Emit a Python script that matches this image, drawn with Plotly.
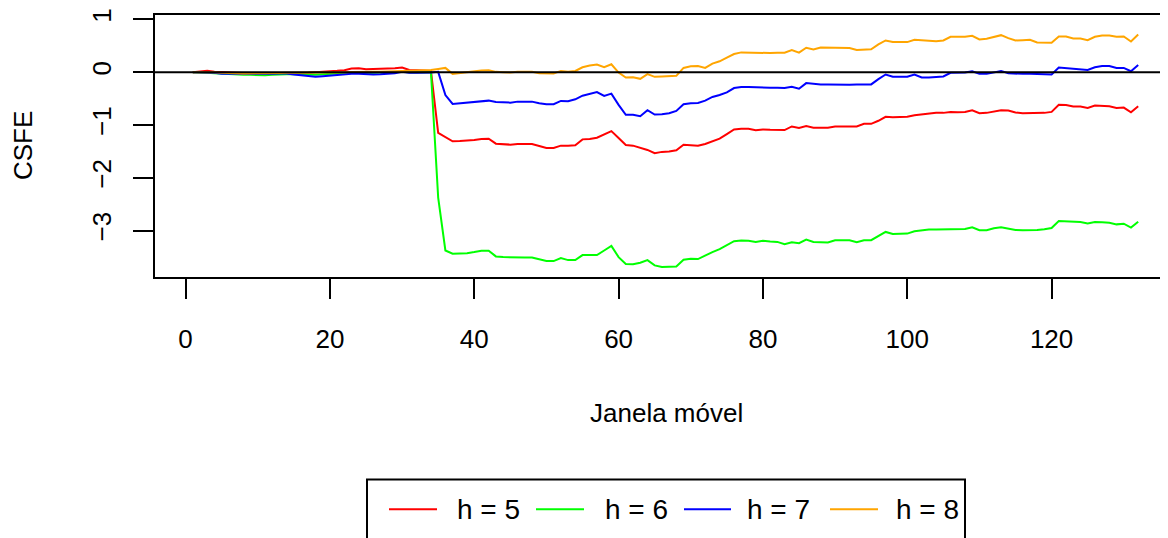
import plotly.graph_objects as go

# ---- data ----
janela = list(range(1, 133))

h5 = [0.00, 0.01, 0.025, 0.01, 0.0, -0.01, -0.01, -0.015, -0.015, -0.02,
      -0.02, -0.015, -0.015, -0.01, -0.01, -0.01, -0.01, 0.0, 0.005, 0.015,
      0.025, 0.037, 0.068, 0.075, 0.056, 0.062, 0.062, 0.062, 0.075, 0.087,
      0.043, 0.037, 0.037, 0.025, -1.15, -1.235, -1.31, -1.304, -1.298, -1.285,
      -1.266, -1.26, -1.354, -1.366, -1.373, -1.36, -1.36, -1.36, -1.398, -1.436,
      -1.436, -1.392, -1.392, -1.385, -1.273, -1.266, -1.241, -1.172, -1.116, -1.247,
      -1.379, -1.392, -1.436, -1.473, -1.536, -1.51, -1.504, -1.479, -1.373, -1.379,
      -1.392, -1.36, -1.316, -1.26, -1.172, -1.084, -1.072, -1.07, -1.10, -1.085,
      -1.091, -1.091, -1.097, -1.028, -1.059, -1.022, -1.053, -1.053, -1.053, -1.028,
      -1.028, -1.028, -1.028, -0.978, -0.978, -0.921, -0.846, -0.853, -0.846, -0.846,
      -0.815, -0.796, -0.777, -0.771, -0.771, -0.753, -0.759, -0.753, -0.721, -0.777,
      -0.771, -0.74, -0.721, -0.727, -0.765, -0.777, -0.777, -0.777, -0.771, -0.753,
      -0.618, -0.621, -0.652, -0.652, -0.677, -0.633, -0.646, -0.646, -0.677, -0.671,
      -0.759, -0.646]

h6 = [0.0, 0.0, -0.01, -0.02, -0.03, -0.04, -0.045, -0.05, -0.05, -0.055,
      -0.06, -0.05, -0.04, -0.04, -0.04, -0.045, -0.05, -0.05, -0.04, -0.03,
      -0.02, -0.01, -0.01, -0.005, -0.01, -0.01, -0.005, 0.0, 0.005, 0.01,
      0.0, 0.0, 0.0, 0.0, -2.375, -3.378, -3.44, -3.435, -3.428, -3.408,
      -3.384, -3.384, -3.49, -3.503, -3.509, -3.503, -3.509, -3.509, -3.547, -3.578,
      -3.578, -3.522, -3.56, -3.56, -3.465, -3.465, -3.465, -3.378, -3.29, -3.503,
      -3.635, -3.64, -3.61, -3.56, -3.66, -3.69, -3.685, -3.68, -3.553, -3.535,
      -3.54, -3.471, -3.408, -3.351, -3.283, -3.202, -3.19, -3.195, -3.215, -3.195,
      -3.208, -3.215, -3.258, -3.221, -3.24, -3.171, -3.215, -3.215, -3.227, -3.183,
      -3.183, -3.183, -3.221, -3.183, -3.183, -3.108, -3.026, -3.064, -3.064, -3.058,
      -3.014, -2.995, -2.982, -2.982, -2.982, -2.976, -2.976, -2.97, -2.939, -2.995,
      -2.995, -2.957, -2.939, -2.964, -2.989, -2.995, -2.995, -2.989, -2.976, -2.951,
      -2.82, -2.826, -2.839, -2.839, -2.864, -2.839, -2.845, -2.851, -2.883, -2.87,
      -2.945, -2.833]

h7 = [0.0, 0.0, 0.0, -0.013, -0.03, -0.03, -0.03, -0.03, -0.03, -0.044,
      -0.044, -0.032, -0.026, -0.026, -0.044, -0.057, -0.076, -0.088, -0.076, -0.063,
      -0.044, -0.038, -0.032, -0.032, -0.044, -0.044, -0.038, -0.032, -0.019, 0.006,
      -0.013, -0.013, -0.013, -0.007, 0.006, -0.433, -0.602, -0.589, -0.571, -0.558,
      -0.539, -0.539, -0.565, -0.571, -0.577, -0.558, -0.558, -0.558, -0.589, -0.608,
      -0.608, -0.545, -0.552, -0.514, -0.445, -0.407, -0.376, -0.451, -0.407, -0.62,
      -0.808, -0.808, -0.833, -0.721, -0.802, -0.796, -0.777, -0.733, -0.608, -0.589,
      -0.583, -0.539, -0.47, -0.433, -0.383, -0.301, -0.282, -0.282, -0.289, -0.282,
      -0.295, -0.295, -0.301, -0.276, -0.313, -0.207, -0.226, -0.232, -0.232, -0.239,
      -0.239, -0.239, -0.232, -0.232, -0.232, -0.132, -0.044, -0.088, -0.088, -0.088,
      -0.044, -0.101, -0.101, -0.095, -0.082, -0.013, -0.013, -0.007, 0.018, -0.032,
      -0.032, -0.007, 0.024, -0.019, -0.032, -0.032, -0.032, -0.038, -0.044, -0.044,
      0.087, 0.075, 0.062, 0.062, 0.043, 0.093, 0.118, 0.118, 0.081, 0.081,
      0.018, 0.137]

h8 = [0.0, 0.0, 0.005, 0.0, -0.01, -0.02, -0.02, -0.025, -0.025, -0.025,
      -0.02, -0.02, -0.015, -0.01, -0.01, -0.01, -0.01, -0.01, -0.01, -0.005,
      0.0, 0.0, 0.005, 0.01, 0.01, 0.01, 0.01, 0.015, 0.02, 0.025,
      0.03, 0.03, 0.035, 0.04, 0.062, 0.081, -0.032, -0.013, 0.006, 0.018,
      0.031, 0.037, 0.006, 0.0, -0.007, 0.006, 0.006, 0.006, -0.019, -0.026,
      -0.026, 0.024, 0.006, 0.024, 0.093, 0.125, 0.143, 0.093, 0.15, -0.007,
      -0.101, -0.095, -0.126, -0.038, -0.088, -0.082, -0.07, -0.07, 0.081, 0.112,
      0.118, 0.081, 0.162, 0.206, 0.275, 0.344, 0.375, 0.369, 0.363, 0.369,
      0.363, 0.369, 0.369, 0.419, 0.369, 0.463, 0.432, 0.469, 0.463, 0.463,
      0.457, 0.457, 0.419, 0.432, 0.432, 0.526, 0.601, 0.57, 0.57, 0.57,
      0.613, 0.601, 0.588, 0.588, 0.601, 0.67, 0.67, 0.67, 0.689, 0.62,
      0.632, 0.67, 0.701, 0.645, 0.601, 0.607, 0.613, 0.563, 0.557, 0.557,
      0.676, 0.676, 0.639, 0.639, 0.607, 0.67, 0.695, 0.695, 0.67, 0.676,
      0.582, 0.714]

series_names = ["h = 5", "h = 6", "h = 7", "h = 8"]
series_values = [h5, h6, h7, h8]
series_colors = ["#FF0000", "#00FF00", "#0000FF", "#FFA500"]

x_ticks = [0, 20, 40, 60, 80, 100, 120]
y_ticks = [-3, -2, -1, 0, 1]

# ---- layout geometry (figure pixels; the page adds an 8px body margin) ----
OFF = 8
W, H = 1168, 538
L, T, B_PX = 155 - OFF, 13 - OFF, 277 - OFF   # plot area left, top, bottom
FONT = "Liberation Sans, Arial, Helvetica, sans-serif"
FS = 26
FS_LEG = 28

def px_x(p):   # page pixel x -> paper x
    return (p - OFF - L) / (W - L)

def px_y(p):   # page pixel y -> paper y
    return (B_PX - (p - OFF)) / (B_PX - T)

fig = go.Figure()
for name, vals, col in zip(series_names, series_values, series_colors):
    fig.add_trace(go.Scatter(x=janela, y=vals, mode="lines", name=name,
                             line=dict(color=col, width=2), showlegend=False))

shapes = [
    dict(type="line", xref="paper", yref="y", x0=0, x1=1, y0=0, y1=0,
         line=dict(color="black", width=2), layer="above"),
    dict(type="rect", xref="paper", yref="paper",
         x0=px_x(367), x1=px_x(965), y0=px_y(570), y1=px_y(481),
         line=dict(color="black", width=2), fillcolor="rgba(0,0,0,0)"),
]
annotations = [
    dict(text="CSFE", xref="paper", yref="paper", x=px_x(23), y=px_y(145),
         textangle=-90, showarrow=False, xanchor="center", yanchor="middle",
         font=dict(family=FONT, size=FS, color="black")),
    dict(text="Janela móvel", xref="paper", yref="paper", x=px_x(666), y=px_y(414),
         showarrow=False, xanchor="center", yanchor="middle",
         font=dict(family=FONT, size=FS, color="black")),
]
leg_line_x = [(389, 437), (536, 584), (684, 731), (830, 878)]
leg_text_x = [455, 603, 745, 894]
leg_y = 511
for name, col, (a, b), tx in zip(series_names, series_colors, leg_line_x, leg_text_x):
    shapes.append(dict(type="line", xref="paper", yref="paper",
                       x0=px_x(a), x1=px_x(b), y0=px_y(leg_y), y1=px_y(leg_y),
                       line=dict(color=col, width=2)))
    annotations.append(dict(text=name, xref="paper", yref="paper",
                            x=px_x(tx), y=px_y(leg_y), showarrow=False,
                            xanchor="left", yanchor="middle",
                            font=dict(family=FONT, size=FS_LEG, color="black")))

x_lo = 1 - 0.04 * 131
x_hi = 132 + 0.04 * 131

fig.update_layout(
    width=W, height=H,
    margin=dict(l=L, r=0, t=T, b=H - B_PX, pad=0),
    paper_bgcolor="white", plot_bgcolor="white",
    font=dict(family=FONT, size=FS, color="black"),
    shapes=shapes, annotations=annotations,
    showlegend=False,
)
fig.update_xaxes(range=[x_lo, x_hi], tickvals=x_ticks, ticktext=[str(v) for v in x_ticks],
                 showgrid=False, zeroline=False, showline=True, mirror=True,
                 linecolor="black", linewidth=2, ticks="outside", ticklen=20,
                 tickwidth=1.5, tickcolor="black", ticklabelstandoff=18,
                 ticklabeloverflow="allow",
                 tickfont=dict(family=FONT, size=FS, color="black"))
fig.update_yaxes(range=[-3.88, 1.083], tickvals=y_ticks,
                 ticktext=["\u22123", "\u22122", "\u22121", "0", "1"],
                 showgrid=False, zeroline=False, showline=True, mirror=False,
                 linecolor="black", linewidth=2, ticks="outside", ticklen=20,
                 tickwidth=1.5, tickcolor="black", tickangle=-90, ticklabelstandoff=12,
                 ticklabeloverflow="allow",
                 tickfont=dict(family=FONT, size=FS, color="black"))

fig.write_html("out.html")
